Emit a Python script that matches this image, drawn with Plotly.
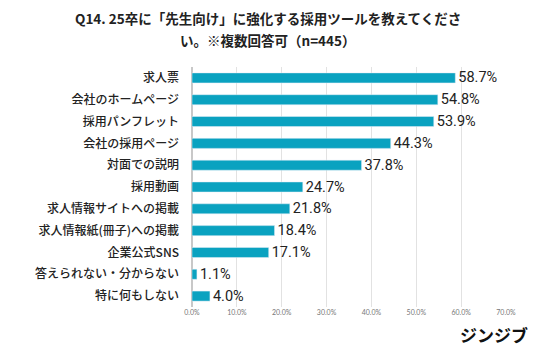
import plotly.graph_objects as go

categories = ["求人票", "会社のホームページ", "採用パンフレット", "会社の採用ページ", "対面での説明",
              "採用動画", "求人情報サイトへの掲載", "求人情報紙(冊子)への掲載", "企業公式SNS",
              "答えられない・分からない", "特に何もしない"]
values = [58.7, 54.8, 53.9, 44.3, 37.8, 24.7, 21.8, 18.4, 17.1, 1.1, 4.0]
tick_vals = [0, 10, 20, 30, 40, 50, 60, 70]
title_lines = ["Q14. 25卒に「先生向け」に強化する採用ツールを教えてくださ", "い。※複数回答可（n=445）"]

font = "Noto Sans CJK JP"

fig = go.Figure(go.Bar(
    x=values, y=categories, orientation="h",
    marker=dict(color="#0aa2c0"),
    text=[f"{v:.1f}%" for v in values], textposition="outside",
    textfont=dict(size=14.5, color="#222", family="Roboto"),
    constraintext="none",
    cliponaxis=False,
))

# page body has an 8px default margin, so the figure is 8px smaller than the window
fig.update_layout(
    width=528, height=347,
    margin=dict(l=184, r=30, t=59, b=48),
    paper_bgcolor="white", plot_bgcolor="white",
    bargap=0.54,
    showlegend=False,
    font=dict(family=font),
)
fig.update_xaxes(range=[0, 70], tickvals=tick_vals, ticktext=[f"{v:.1f}%" for v in tick_vals],
                 tickfont=dict(size=7, color="#777", family="Lato"),
                 showgrid=True, gridcolor="#e2e2e2", gridwidth=1, zeroline=True,
                 zerolinecolor="#c8c8c8", ticks="", automargin=False, fixedrange=True)
fig.update_yaxes(autorange="reversed", tickfont=dict(size=12, color="#222", family=font, weight=500),
                 ticks="", ticklabelstandoff=12, showline=False, automargin=False)

for i, line in enumerate(title_lines):
    fig.add_annotation(text=f"<b>{line}</b>", xref="paper", yref="paper",
                       x=(268 - 192) / 314, y=(307 - (18 + 22 * i)) / 240,
                       xanchor="center", yanchor="middle", showarrow=False,
                       font=dict(size=13.5, color="#222", family=font))

fig.add_annotation(text="<b>ジンジブ</b>", xref="paper", yref="paper", x=(530 - 192) / 314,
                   y=(307 - 334) / 240,
                   xanchor="right", yanchor="middle", showarrow=False,
                   font=dict(size=17, color="#111", family=font))

fig.write_html("out.html")
